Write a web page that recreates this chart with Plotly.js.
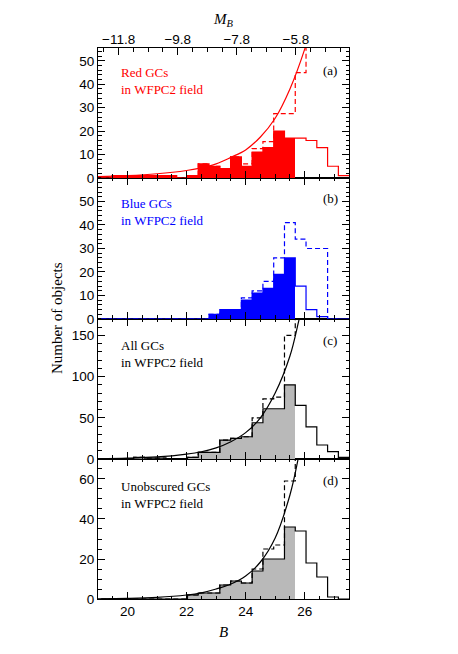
<!DOCTYPE html>
<html>
<head>
<meta charset="utf-8">
<script src="https://cdn.plot.ly/plotly-3.0.1.min.js"></script>
<style>
  body { margin: 0; background: #fff; }
  #graph { width: 458px; height: 654px; }
</style>
</head>
<body>
<div id="graph"></div>
<script>
// ビンの左端 (B 等級)、最後は右端
const binEdges = [19.11, 19.475, 19.84, 20.205, 20.57, 20.935, 21.30, 21.665, 22.03, 22.395, 22.76, 23.125,
  23.49, 23.855, 24.22, 24.585, 24.95, 25.315, 25.68, 26.045, 26.41, 26.775, 27.14, 27.505];
// 塗りつぶしの限界等級と距離指数
const B_LIMIT = 25.68;
const DIST_MOD = 31.5;

// (a) 赤い GC
const redObs = [0, 1, 1, 1, 1, 1, 1, 0, 1, 6, 5, 4, 9, 5, 11, 13, 20, 17, 17, 16, 13, 5, 1];
const redCorr = [0, 1, 1, 1, 1, 1, 1, 0, 1, 6, 5, 4, 9, 6, 12.5, 15.5, 27.5, 27.5, 45, 80];
const redCurveB = [19.0, 20.0, 21.0, 22.0, 22.5, 23.0, 23.5, 24.0, 24.5, 25.0, 25.5, 26.0, 26.3];
const redCurveN = [0.6, 1.0, 1.8, 3.2, 4.3, 6.0, 8.8, 12.0, 17.5, 25.5, 38, 55, 68];

// (b) 青い GC
const blueObs = [0, 0, 0, 0, 0, 0, 0, 0, 0, 0, 2, 4, 4, 8, 11, 13, 19, 26, 14, 4, 1, 0, 0];
const blueCorr = [0, 0, 0, 0, 0, 0, 0, 0, 0, 0, 2, 4, 4, 9, 12, 16, 26, 41, 34, 30, 30, 0];

// (c) すべての GC
const allObs = [0, 0, 0, 2, 1, 1, 0, 0, 2, 8, 8, 23, 25, 27, 44, 61, 61, 90, 65, 39, 17, 9, 2];
const allCorr = [0, 0, 0, 2, 1, 1, 0, 0, 2, 8, 8, 23, 25, 27, 50, 73, 75, 150, 300];
const allCurveB = [19.0, 20.0, 21.0, 22.0, 22.5, 23.0, 23.5, 24.0, 24.5, 25.0, 25.5, 25.8, 26.0];
const allCurveN = [0.4, 1.0, 2.5, 6.0, 8.8, 13.5, 21, 32, 50, 80, 125, 168, 200];

// (d) 遮蔽されていない GC
const unobsObs = [0, 0, 0, 0, 0, 0, 0, 0, 2, 3, 3, 7, 9, 8, 14, 20, 20, 36, 34, 18, 11, 1, 0];
const unobsCorr = [0, 0, 0, 0, 0, 0, 0, 0, 2, 3, 3, 7, 9, 8, 15, 25, 27, 59, 150];
const unobsCurveB = [19.0, 20.0, 21.0, 22.0, 22.5, 23.0, 23.5, 24.0, 24.5, 25.0, 25.5, 25.75, 26.0];
const unobsCurveN = [0.1, 0.3, 0.8, 2.0, 3.1, 5.0, 7.5, 11.5, 18.5, 30.5, 52, 68, 90];

const RED = "rgb(255,0,0)";
const BLUE = "rgb(0,0,255)";
const GRAY = "rgb(185,185,185)";
const SERIF = "Liberation Serif, Times New Roman, serif";
const SANS = "Liberation Sans, Arial, sans-serif";

// 階段状の外形線
function stepTrace(counts, color, dash, xa, ya) {
  const x = binEdges.slice(0, counts.length + 1);
  const y = counts.concat([counts[counts.length - 1]]);
  return {
    x: x, y: y, xaxis: xa, yaxis: ya, type: "scatter", mode: "lines",
    line: { shape: "hv", color: color, width: 1.2, dash: dash ? "5px,3px" : "solid" },
    hoverinfo: "skip", showlegend: false,
  };
}

// 限界等級より明るいビンの塗りつぶし
function fillTrace(counts, color, xa, ya) {
  const x = [];
  const y = [];
  const w = [];
  counts.forEach((c, i) => {
    if (binEdges[i + 1] <= B_LIMIT + 0.001) {
      x.push((binEdges[i] + binEdges[i + 1]) / 2);
      w.push(binEdges[i + 1] - binEdges[i] + 0.004);
      y.push(c);
    }
  });
  return {
    x: x, y: y, width: w, xaxis: xa, yaxis: ya, type: "bar",
    marker: { color: color, line: { width: 0 } },
    hoverinfo: "skip", showlegend: false,
  };
}

// 光度関数の曲線
function curveTrace(bs, ns, color, xa, ya) {
  return {
    x: bs, y: ns, xaxis: xa, yaxis: ya, type: "scatter", mode: "lines",
    line: { shape: "spline", smoothing: 1, color: color, width: 1.2 },
    hoverinfo: "skip", showlegend: false,
  };
}

// 上の M_B 軸を描かせるための透明な線
const mbTrace = curveTrace(redCurveB.map(b => b - DIST_MOD), redCurveN, RED, "x5", "y4");
mbTrace.opacity = 0;

const data = [
  fillTrace(unobsObs, GRAY, "x", "y"),
  stepTrace(unobsObs, "black", false, "x", "y"),
  stepTrace(unobsCorr, "black", true, "x", "y"),
  curveTrace(unobsCurveB, unobsCurveN, "black", "x", "y"),

  fillTrace(allObs, GRAY, "x2", "y2"),
  stepTrace(allObs, "black", false, "x2", "y2"),
  stepTrace(allCorr, "black", true, "x2", "y2"),
  curveTrace(allCurveB, allCurveN, "black", "x2", "y2"),

  fillTrace(blueObs, BLUE, "x3", "y3"),
  stepTrace(blueObs, BLUE, false, "x3", "y3"),
  stepTrace(blueCorr, BLUE, true, "x3", "y3"),

  fillTrace(redObs, RED, "x4", "y4"),
  stepTrace(redObs, RED, false, "x4", "y4"),
  stepTrace(redCorr, RED, true, "x4", "y4"),
  curveTrace(redCurveB, redCurveN, RED, "x4", "y4"),
  mbTrace,
];

const tickFont = { family: SANS, size: 13.5, color: "black" };

function xAxis(anchor, extra) {
  return Object.assign({
    anchor: anchor, range: [19, 27.5], tickmode: "linear", tick0: 20, dtick: 2,
    ticks: "inside", ticklen: 7, tickwidth: 1, tickcolor: "black",
    showline: true, linecolor: "black", linewidth: 1, mirror: "ticks",
    showgrid: false, zeroline: false, showticklabels: false, tickfont: tickFont,
    minor: { tick0: 20, dtick: 0.5, ticks: "inside", ticklen: 3.5, tickcolor: "black", showgrid: false },
  }, extra);
}

function yAxis(domain, range, vals, minor) {
  return {
    anchor: "x", domain: domain, range: range, tickmode: "array", tickvals: vals,
    ticks: "inside", ticklen: 7, tickwidth: 1, tickcolor: "black",
    showline: true, linecolor: "black", linewidth: 1, mirror: "ticks",
    showgrid: false, zeroline: false, tickfont: tickFont,
    minor: { tick0: 0, dtick: minor, ticks: "inside", ticklen: 3.5, tickcolor: "black", showgrid: false },
  };
}

const textFont = (color) => ({ family: SERIF, size: 13, color: color });

function panelText(text, color, xr, yr, top) {
  return {
    text: text, xref: xr + " domain", yref: yr + " domain", x: 0.085, y: top,
    xanchor: "left", yanchor: "top", align: "left", showarrow: false, font: textFont(color),
  };
}

function panelTag(text, xr, yr, yy) {
  return {
    text: text, xref: xr + " domain", yref: yr + " domain", x: 0.925, y: yy,
    xanchor: "center", yanchor: "middle", showarrow: false, font: textFont("black"),
  };
}

const layout = {
  width: 458, height: 654,
  margin: { l: 98, r: 109, t: 48, b: 55 },
  paper_bgcolor: "white", plot_bgcolor: "white",
  barmode: "overlay", bargap: 0,
  xaxis: xAxis("y", {
    showticklabels: true,
    title: { text: "<i>B</i>", font: { family: SERIF, size: 15, color: "black" }, standoff: 8 },
  }),
  xaxis2: xAxis("y2", { matches: "x" }),
  xaxis3: xAxis("y3", { matches: "x" }),
  xaxis4: xAxis("y4", { matches: "x", mirror: true }),
  xaxis5: {
    overlaying: "x4", anchor: "y4", side: "top",
    range: [19 - DIST_MOD, 27.5 - DIST_MOD], tickmode: "linear", tick0: -11.8, dtick: 2, tickformat: ".1f",
    ticks: "inside", ticklen: 7, tickwidth: 1, tickcolor: "black",
    showline: false, showgrid: false, zeroline: false, tickfont: tickFont,
    minor: { tick0: -11.8, dtick: 0.5, ticks: "inside", ticklen: 3.5, tickcolor: "black", showgrid: false },
    title: { text: "<i>M</i><sub><i>B</i></sub>", font: { family: SERIF, size: 15, color: "black" }, standoff: 4 },
  },
  yaxis: yAxis([0, 0.2541], [0, 70], [0, 20, 40, 60], 5),
  yaxis2: yAxis([0.2541, 0.5082], [0, 170], [0, 50, 100, 150], 10),
  yaxis3: yAxis([0.5082, 0.7641], [0, 60], [0, 10, 20, 30, 40, 50], 2),
  yaxis4: yAxis([0.7641, 1], [0, 55.5], [0, 10, 20, 30, 40, 50], 2),
  annotations: [
    panelText("Red GCs<br>in WFPC2 field", RED, "x4", "y4", 0.885),
    panelText("Blue GCs<br>in WFPC2 field", BLUE, "x3", "y3", 0.887),
    panelText("All GCs<br>in WFPC2 field", "black", "x2", "y2", 0.879),
    panelText("Unobscured GCs<br>in WFPC2 field", "black", "x", "y", 0.871),
    panelTag("(a)", "x4", "y4", 0.83),
    panelTag("(b)", "x3", "y3", 0.851),
    panelTag("(c)", "x2", "y2", 0.843),
    panelTag("(d)", "x", "y", 0.843),
    {
      text: "Number of objects", textangle: -90, xref: "paper", yref: "paper",
      x: -0.163, y: 0.51, xanchor: "center", yanchor: "middle", showarrow: false,
      font: { family: SERIF, size: 15, color: "black" },
    },
  ],
};

Plotly.newPlot("graph", data, layout, { staticPlot: true, displayModeBar: false });
</script>
</body>
</html>
